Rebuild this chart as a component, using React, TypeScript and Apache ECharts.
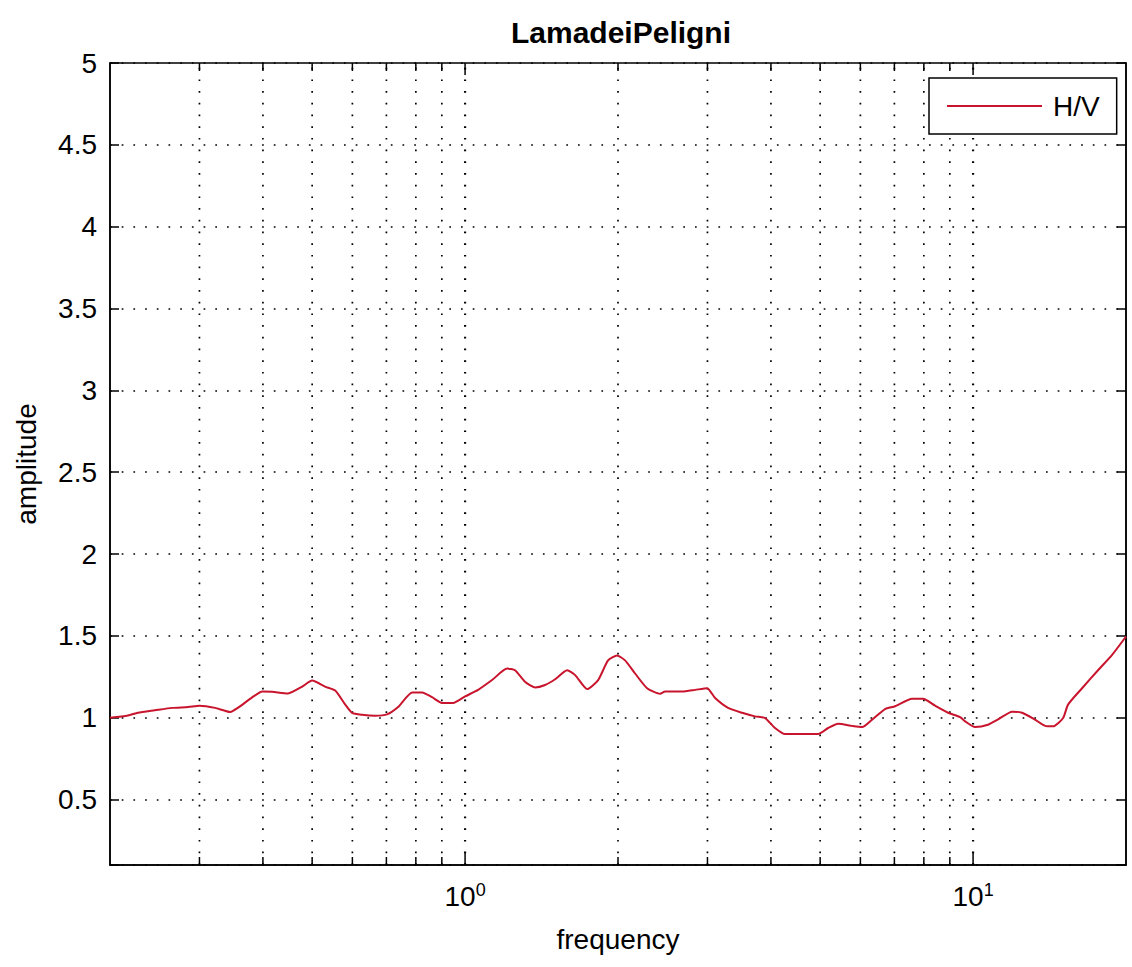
import React, { useEffect, useRef } from "react";
import * as echarts from "echarts";

const TITLE = "LamadeiPeligni";
const SERIES_NAME = "H/V";
const X_NAME = "frequency";
const Y_NAME = "amplitude";

const X_MIN = 0.2;
const X_MAX = 20;
const Y_MIN = 0.1;
const Y_MAX = 5;

const frequency = [
  0.2, 0.217, 0.227, 0.245, 0.265, 0.285, 0.3, 0.322, 0.345, 0.357, 0.381, 0.399,
  0.417, 0.448, 0.478, 0.5, 0.53, 0.555, 0.581, 0.599, 0.627, 0.665, 0.702, 0.738,
  0.787, 0.823, 0.861, 0.901, 0.947, 1.0, 1.061, 1.13, 1.21, 1.254, 1.312, 1.373,
  1.437, 1.504, 1.588, 1.647, 1.739, 1.828, 1.912, 1.992, 2.065, 2.161, 2.282, 2.421,
  2.476, 2.675, 2.837, 2.995, 3.106, 3.294, 3.51, 3.723, 3.896, 4.075, 4.264, 4.955,
  5.184, 5.425, 5.779, 6.047, 6.327, 6.711, 7.023, 7.586, 7.974, 8.42, 8.932, 9.429,
  9.646, 10.09, 10.7, 11.2, 11.94, 12.49, 13.24, 13.86, 14.37, 15.04, 15.38, 16.39,
  17.62, 18.78, 20,
];

const amplitude = [
  1.0, 1.014, 1.03, 1.045, 1.06, 1.065, 1.073, 1.06, 1.035, 1.06, 1.124, 1.16,
  1.158, 1.148, 1.19, 1.227, 1.19, 1.166, 1.08, 1.03, 1.018, 1.012, 1.02, 1.065,
  1.154, 1.154, 1.125, 1.09, 1.09, 1.13, 1.17, 1.23, 1.3, 1.29, 1.22, 1.185,
  1.2, 1.235, 1.29, 1.26, 1.175, 1.23, 1.35, 1.38, 1.35, 1.27, 1.18, 1.146,
  1.16, 1.16, 1.17, 1.18, 1.12, 1.06, 1.03, 1.008, 0.998, 0.937, 0.9, 0.9,
  0.937, 0.963, 0.95, 0.943, 0.988, 1.053, 1.07, 1.116, 1.116, 1.073, 1.03, 1.004,
  0.978, 0.943, 0.957, 0.99, 1.037, 1.03, 0.988, 0.95, 0.947, 0.998, 1.08, 1.18,
  1.29, 1.384, 1.496,
];

// log-axis grid / tick positions (decade multiples)
const xGridValues = [0.3, 0.4, 0.5, 0.6, 0.7, 0.8, 0.9, 1, 2, 3, 4, 5, 6, 7, 8, 9, 10];
const xMajorValues = [1, 10];

const FONT = "'Liberation Sans', Arial, Helvetica, sans-serif";
const LINE_COLOR = "#c8142c";

export default function App() {
  const ref = useRef<HTMLDivElement>(null);

  useEffect(() => {
    if (!ref.current) return;
    const chart = echarts.init(ref.current, null, { renderer: "svg" });

    const isPow10 = (v: number) => {
      const l = Math.log10(v);
      return Math.abs(l - Math.round(l)) < 1e-6;
    };

    const option: any = {
      animation: false,
      backgroundColor: "#ffffff",
      textStyle: { fontFamily: FONT, color: "#000" },
      title: {
        text: TITLE,
        left: 616,
        textAlign: "center",
        top: 12,
        textStyle: { fontFamily: FONT, fontSize: 30, fontWeight: "bold", color: "#000" },
      },
      legend: {
        data: [{ name: SERIES_NAME, icon: "rect" }],
        left: 929,
        top: 78,
        orient: "vertical",
        backgroundColor: "#ffffff",
        borderColor: "#000",
        borderWidth: 1.5,
        borderRadius: 0,
        padding: [14, 17, 14, 18],
        itemWidth: 95,
        itemHeight: 2,
        z: 10,
        itemStyle: { color: LINE_COLOR, borderWidth: 0 },
        textStyle: { fontFamily: FONT, fontSize: 28, color: "#000", padding: [0, 0, 0, 6] },
      },
      grid: {
        left: 110,
        right: 6,
        top: 63,
        bottom: 102,
        show: true,
        borderColor: "#000",
        borderWidth: 1.5,
        backgroundColor: "transparent",
      },
      xAxis: {
        type: "log",
        logBase: 10,
        min: X_MIN,
        max: X_MAX,
        name: X_NAME,
        nameLocation: "middle",
        nameGap: 60,
        nameTextStyle: { fontFamily: FONT, fontSize: 28, color: "#000" },
        axisLine: { show: true, lineStyle: { color: "#000", width: 1.5 } },
        axisTick: { show: false },
        splitLine: { show: false },
        axisLabel: {
          margin: 16,
          color: "#000",
          fontFamily: FONT,
          showMinLabel: true,
          showMaxLabel: true,
          formatter: (v: number) =>
            isPow10(v) ? `{b|10}{s|${Math.round(Math.log10(v))}}` : "",
          rich: {
            b: { fontFamily: FONT, fontSize: 28, lineHeight: 30, color: "#000" },
            s: { fontFamily: FONT, fontSize: 18, lineHeight: 18, verticalAlign: "top", color: "#000" },
          },
        },
      },
      yAxis: [
        {
          type: "value",
          min: Y_MIN,
          max: Y_MAX,
          splitNumber: 10,
          name: Y_NAME,
          nameLocation: "middle",
          nameGap: 70,
          nameTextStyle: { fontFamily: FONT, fontSize: 28, color: "#000" },
          axisLine: { show: true, lineStyle: { color: "#000", width: 1.5 } },
          axisTick: { show: true, inside: true, length: 9, lineStyle: { color: "#000", width: 1.5 } },
          axisLabel: {
            margin: 13,
            fontFamily: FONT,
            fontSize: 28,
            color: "#000",
            formatter: (v: number) => (Math.abs(v - Y_MIN) < 1e-9 ? "" : String(v)),
          },
          splitLine: {
            show: true,
            lineStyle: { color: "#000", width: 1.7, type: [1.7, 10] },
          },
        },
        {
          type: "value",
          position: "right",
          min: Y_MIN,
          max: Y_MAX,
          splitNumber: 10,
          axisLine: { show: true, lineStyle: { color: "#000", width: 1.5 } },
          axisTick: { show: true, inside: true, length: 9, lineStyle: { color: "#000", width: 1.5 } },
          axisLabel: { show: false },
          splitLine: { show: false },
        },
      ],
      series: [
        {
          type: "custom",
          name: "grid",
          silent: true,
          z: 1,
          xAxisIndex: 0,
          yAxisIndex: 0,
          data: xGridValues.map((v) => [v, Y_MIN]),
          encode: { x: 0, y: 1 },
          renderItem: (params: any, api: any) => {
            const xv = api.value(0);
            const bot = api.coord([xv, Y_MIN]);
            const top = api.coord([xv, Y_MAX]);
            const major = xMajorValues.some((m) => Math.abs(m - xv) < 1e-9);
            const len = major ? 12 : 8;
            return {
              type: "group",
              children: [
                {
                  type: "line",
                  shape: { x1: bot[0], y1: bot[1], x2: top[0], y2: top[1] },
                  style: { stroke: "#000", lineWidth: major ? 2.2 : 1.7, lineDash: [1.7, 10] },
                },
                {
                  type: "line",
                  shape: { x1: bot[0], y1: bot[1], x2: bot[0], y2: bot[1] - len },
                  style: { stroke: "#000", lineWidth: 1.5 },
                },
                {
                  type: "line",
                  shape: { x1: top[0], y1: top[1], x2: top[0], y2: top[1] + len },
                  style: { stroke: "#000", lineWidth: 1.5 },
                },
              ],
            };
          },
        },
        {
          type: "line",
          name: SERIES_NAME,
          z: 3,
          xAxisIndex: 0,
          yAxisIndex: 0,
          symbol: "none",
          showSymbol: false,
          smooth: 0.2,
          lineStyle: { color: LINE_COLOR, width: 2 },
          itemStyle: { color: LINE_COLOR },
          data: frequency.map((f, i) => [f, amplitude[i]]),
        },
      ],
    };

    chart.setOption(option);
    return () => chart.dispose();
  }, []);

  return (
    <div
      ref={ref}
      style={{ position: "fixed", left: 0, top: 0, width: 1132, height: 967, background: "#fff" }}
    />
  );
}
